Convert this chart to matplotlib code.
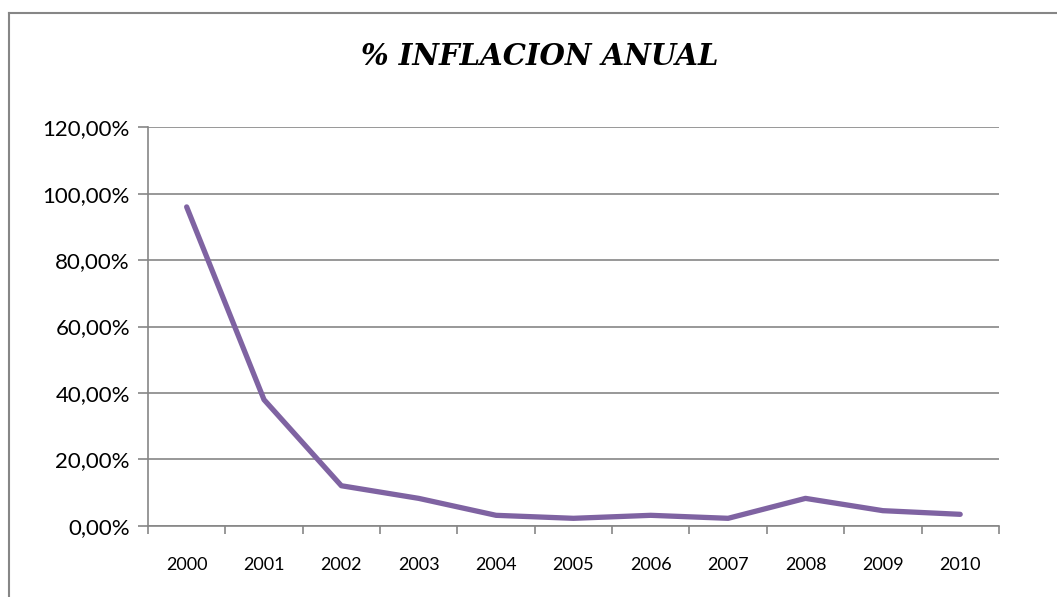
import matplotlib
matplotlib.use('Agg')
import matplotlib.pyplot as plt
from matplotlib.lines import Line2D
import numpy as np

# datos
anios = ['2000', '2001', '2002', '2003', '2004', '2005',
         '2006', '2007', '2008', '2009', '2010']
inflacion = [96.0, 38.0, 12.1, 8.3, 3.2, 2.3, 3.2, 2.3, 8.3, 4.6, 3.5]
yticks = [0, 20, 40, 60, 80, 100, 120]
ylabels = ['0,00%', '20,00%', '40,00%', '60,00%', '80,00%', '100,00%', '120,00%']

gris = '#868686'
morado = '#7F63A2'

fig = plt.figure(figsize=(10.57, 5.97), dpi=100)
ax = fig.add_axes([0.140, 0.119, 0.805, 0.668])

x = np.arange(len(anios))
ax.plot(x, inflacion, color=morado, lw=3.8, solid_capstyle='round',
        solid_joinstyle='round', zorder=3)

ax.set_xlim(-0.5, len(anios) - 0.5)
ax.set_ylim(0, 120)

# ticks en los bordes de categoria, etiquetas al centro
ax.set_xticks(np.arange(-0.5, len(anios)), labels=[''] * (len(anios) + 1))
ax.set_xticks(x, labels=anios, minor=True)
ax.tick_params(axis='x', which='major', length=6, width=1.2, color=gris,
               direction='out')
ax.tick_params(axis='x', which='minor', length=0, pad=22,
               labelsize=13, labelcolor='black')
for t in ax.get_xticklabels(minor=True):
    t.set_family(['Lato', 'DejaVu Sans'])

ax.set_yticks(yticks, labels=ylabels)
ax.tick_params(axis='y', length=7, width=1.2, color=gris, direction='out',
               labelsize=16, pad=6)
for t in ax.get_yticklabels():
    t.set_family(['Lato', 'DejaVu Sans'])

ax.grid(axis='y', color=gris, lw=1.2)
ax.set_axisbelow(True)
for s in ['top', 'right']:
    ax.spines[s].set_visible(False)
for s in ['left', 'bottom']:
    ax.spines[s].set_color(gris)
    ax.spines[s].set_linewidth(1.2)

fig.text(0.511, 0.906, '% INFLACION ANUAL', ha='center', va='center',
         fontsize=21, fontweight='bold', fontstyle='italic',
         family=['DejaVu Serif'])

# marco del grafico (solo se ve arriba e izquierda)
fig.add_artist(Line2D([0.0085, 0.0085], [0, 1 - 13 / 597], color=gris, lw=1.5,
                      transform=fig.transFigure))
fig.add_artist(Line2D([0.0085, 1.0], [1 - 13 / 597, 1 - 13 / 597], color=gris,
                      lw=1.5, transform=fig.transFigure))

fig.savefig('out.png', dpi=100, facecolor='white')
